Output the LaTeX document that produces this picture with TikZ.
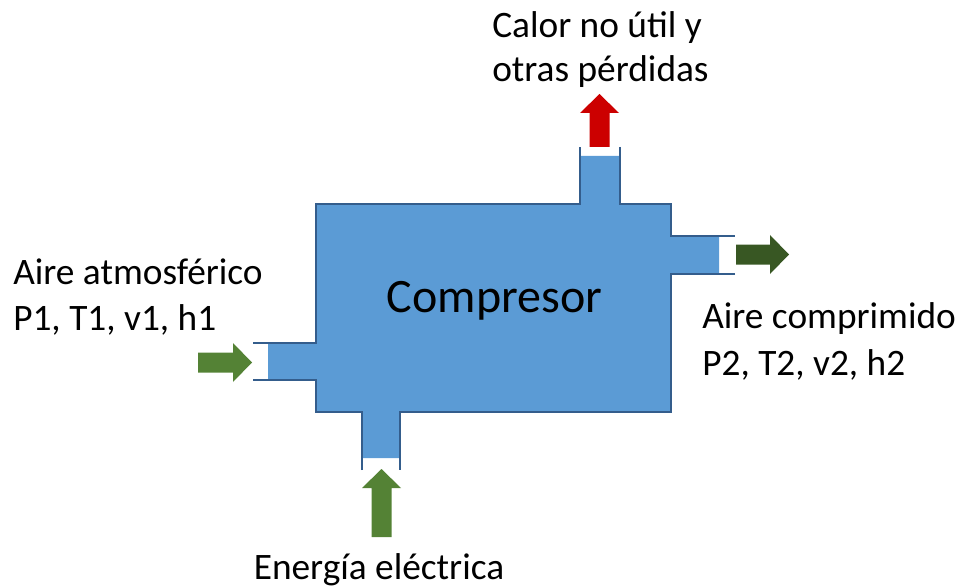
\documentclass[tikz,border=0pt]{standalone}
\usepackage{fontspec}
\setmainfont{Carlito}
\definecolor{bodyFill}{RGB}{91,155,213}
\definecolor{bodyLine}{RGB}{52,93,140}
\definecolor{inGreen}{RGB}{84,130,53}
\definecolor{outGreen}{RGB}{56,87,35}
\definecolor{lossRed}{RGB}{204,0,0}
% block arrow: colour, tail point, direction, length (px)
\newcommand{\blockarrow}[4]{%
  \fill[#1, shift={(#2)}, rotate=#3] (0,-10) -- ({#4-19},-10) -- ({#4-19},-19.5)
    -- (#4,0) -- ({#4-19},19.5) -- ({#4-19},10) -- (0,10) -- cycle;}
\tikzset{
  lbl/.style={font=\fontsize{28pt}{34.5pt}\selectfont, inner sep=0pt, align=left},
  outline/.style={draw=bodyLine, line width=1.9pt, line join=miter},
}
\begin{document}
\begin{tikzpicture}[x=0.75pt, y=-0.75pt]
\useasboundingbox (0,0) rectangle (964,588);

% ---- compressor body with its four ports ----
\fill[bodyFill] (268,343) -- (316,343) -- (316,204) -- (580,204) -- (580,156) -- (620,156)
  -- (620,204) -- (671,204) -- (671,236) -- (719,236) -- (719,274) -- (671,274)
  -- (671,412) -- (400,412) -- (400,458) -- (362,458) -- (362,412) -- (316,412)
  -- (316,380) -- (268,380) -- cycle;
\draw[outline] (253,343) -- (316,343) -- (316,204) -- (580,204) -- (580,147);
\draw[outline] (620,147) -- (620,204) -- (671,204) -- (671,236) -- (735,236);
\draw[outline] (735,274) -- (671,274) -- (671,412) -- (400,412) -- (400,470);
\draw[outline] (362,470) -- (362,412) -- (316,412) -- (316,380) -- (253,380);

\node[font=\fontsize{36pt}{40pt}\selectfont, inner sep=0pt, anchor=base] (comp) at (494.5,312) {Compresor};

% ---- flows ----
\blockarrow{inGreen}{198,362.5}{0}{54}
\blockarrow{outGreen}{736,254.5}{0}{53}
\blockarrow{lossRed}{599.5,147}{90}{53}
\blockarrow{inGreen}{381.5,537}{90}{68}

% ---- labels (base = last line) ----
\node[lbl, font=\fontsize{28pt}{33pt}\selectfont, anchor=base west] (calor) at (492,82) {Calor no útil y\\otras pérdidas};
\node[lbl, anchor=base west] (aireIn) at (13,330) {Aire atmosférico\\P1, T1, v1, h1};
\node[lbl, font=\fontsize{28pt}{35pt}\selectfont, anchor=base west] (aireOut) at (702,375) {Aire comprimido\\P2, T2, v2, h2};
\node[lbl, anchor=base] (energia) at (379,579) {Energía eléctrica};

\end{tikzpicture}
\end{document}
